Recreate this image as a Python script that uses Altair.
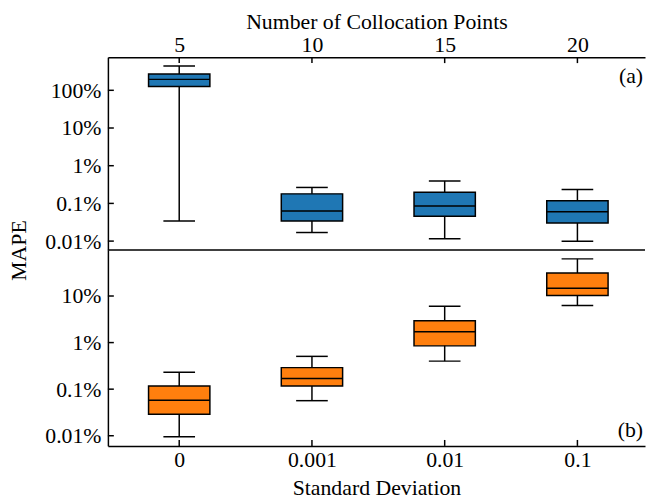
import altair as alt
import pandas as pd

# ---- data (MAPE in percent) ----
top_categories = ["5", "10", "15", "20"]
top_whisker_low = [0.034, 0.0169, 0.0116, 0.0099]
top_q1 = [127.0, 0.034, 0.0456, 0.030]
top_median = [195.0, 0.0625, 0.0857, 0.060]
top_q3 = [270.0, 0.179, 0.197, 0.118]
top_whisker_high = [443.0, 0.265, 0.395, 0.235]

bottom_categories = ["0", "0.001", "0.01", "0.1"]
bottom_whisker_low = [0.0095, 0.0566, 0.40, 6.27]
bottom_q1 = [0.029, 0.117, 0.85, 10.2]
bottom_median = [0.058, 0.17, 1.71, 14.6]
bottom_q3 = [0.117, 0.29, 2.96, 31.3]
bottom_whisker_high = [0.232, 0.506, 6.05, 62.7]

top_y_ticks = [0.01, 0.1, 1, 10, 100]
bottom_y_ticks = [0.01, 0.1, 1, 10]
positions = [1, 2, 3, 4]

FONT = "Liberation Serif"
FS = 22
W = 543
XMAX = 4.472


def panel(cats, lo, q1, med, q3, hi, color, ydom, yticks, H, xorient,
          xtitle, tag, tag_y, ytitle, xtick_y, xtick_y2, divider):
    df = pd.DataFrame({"pos": positions, "cat": cats, "lo": lo, "q1": q1,
                       "med": med, "q3": q3, "hi": hi})
    xscale = alt.Scale(domain=[0.5, XMAX], nice=False, zero=False)
    arr = "[" + ",".join("'%s'" % c for c in cats) + "]"
    if xorient == "top":
        xaxis = alt.Axis(orient="top", values=positions,
                         labelExpr=arr + "[datum.value - 1]", tickSize=0,
                         grid=False, domainColor="black", domainWidth=1.5,
                         labelFont=FONT, labelFontSize=FS, labelColor="black",
                         labelPadding=1, title=xtitle, titleFont=FONT,
                         titleFontSize=FS, titleFontWeight="normal",
                         titleColor="black", titleY=-28.5,
                         titleBaseline="alphabetic")
    else:
        xaxis = alt.Axis(orient="bottom", values=positions,
                         labelExpr=arr + "[datum.value - 1]", tickSize=0,
                         grid=False, domainColor="black", domainWidth=1.5,
                         labelFont=FONT, labelFontSize=FS, labelColor="black",
                         labelPadding=4, title=xtitle, titleFont=FONT,
                         titleFontSize=FS, titleFontWeight="normal",
                         titleColor="black", titleY=49,
                         titleBaseline="alphabetic")
    yscale = alt.Scale(type="log", domain=ydom, nice=False)
    yaxis = alt.Axis(values=yticks, format="~g", labelExpr="datum.label + '%'",
                     tickSize=0, grid=False, domainColor="black",
                     domainWidth=1.5, labelFont=FONT, labelFontSize=FS,
                     labelColor="black", labelPadding=7, title=ytitle,
                     titleFont=FONT, titleFontSize=FS,
                     titleFontWeight="normal", titleColor="black",
                     titleX=-83, titleY=H, titleBaseline="alphabetic",
                     titleAngle=270)

    def X():
        return alt.X("pos:Q", scale=xscale, axis=xaxis)

    def Y(f):
        return alt.Y(f + ":Q", scale=yscale, axis=yaxis)

    base = alt.Chart(df)
    whisk = base.mark_rule(color="black", strokeWidth=1.5).encode(
        x=X(), y=Y("lo"), y2="hi:Q")
    cap_lo = base.mark_tick(orient="horizontal", size=32, thickness=1.5,
                            color="black", opacity=1).encode(x=X(), y=Y("lo"))
    cap_hi = base.mark_tick(orient="horizontal", size=32, thickness=1.5,
                            color="black", opacity=1).encode(x=X(), y=Y("hi"))
    box = base.mark_bar(size=62, color=color, stroke="black", strokeWidth=1.5,
                        opacity=1).encode(x=X(), y=Y("q1"), y2="q3:Q")
    median = base.mark_tick(orient="horizontal", size=62, thickness=1.5,
                            color="black", opacity=1).encode(x=X(), y=Y("med"))

    ytick_df = pd.DataFrame({"v": yticks})
    yt = alt.Chart(ytick_df).mark_rule(color="black", strokeWidth=1.5).encode(
        y=Y("v"), x=alt.value(0), x2=alt.value(6))
    xt = alt.Chart(pd.DataFrame({"pos": positions})).mark_rule(
        color="black", strokeWidth=1.5).encode(
        x=X(), y=alt.value(xtick_y), y2=alt.value(xtick_y2))
    txt = alt.Chart(pd.DataFrame({"t": [tag]})).mark_text(
        align="right", baseline="alphabetic", font=FONT, fontSize=FS,
        color="black").encode(text="t:N", x=alt.value(W - 2),
                              y=alt.value(tag_y))
    layers = [whisk, cap_lo, cap_hi, box, median, yt, xt, txt]
    if divider:
        div = alt.Chart(pd.DataFrame({"d": [0]})).mark_rule(
            color="black", strokeWidth=1.5).encode(
            x=alt.value(0), x2=alt.value(W), y=alt.value(H))
        layers.append(div)
    return alt.layer(*layers).properties(width=W, height=H)


H1 = 195
H2 = 198
top = panel(top_categories, top_whisker_low, top_q1, top_median, top_q3,
            top_whisker_high, "#1f77b4", [0.00579, 757.0], top_y_ticks, H1,
            "top", "Number of Collocation Points", "(a)", 26, "MAPE",
            0, 6, True)
bottom = panel(bottom_categories, bottom_whisker_low, bottom_q1,
               bottom_median, bottom_q3, bottom_whisker_high, "#ff7f0e",
               [0.00605, 97.0], bottom_y_ticks, H2, "bottom",
               "Standard Deviation", "(b)", 189, "", H2 - 6, H2, False)

chart = alt.vconcat(top, bottom, spacing=0, bounds="flush").properties(
    padding=0, background="white"
).configure_view(strokeWidth=0)

chart.save("out.html", embed_options={"renderer": "svg", "actions": False})
